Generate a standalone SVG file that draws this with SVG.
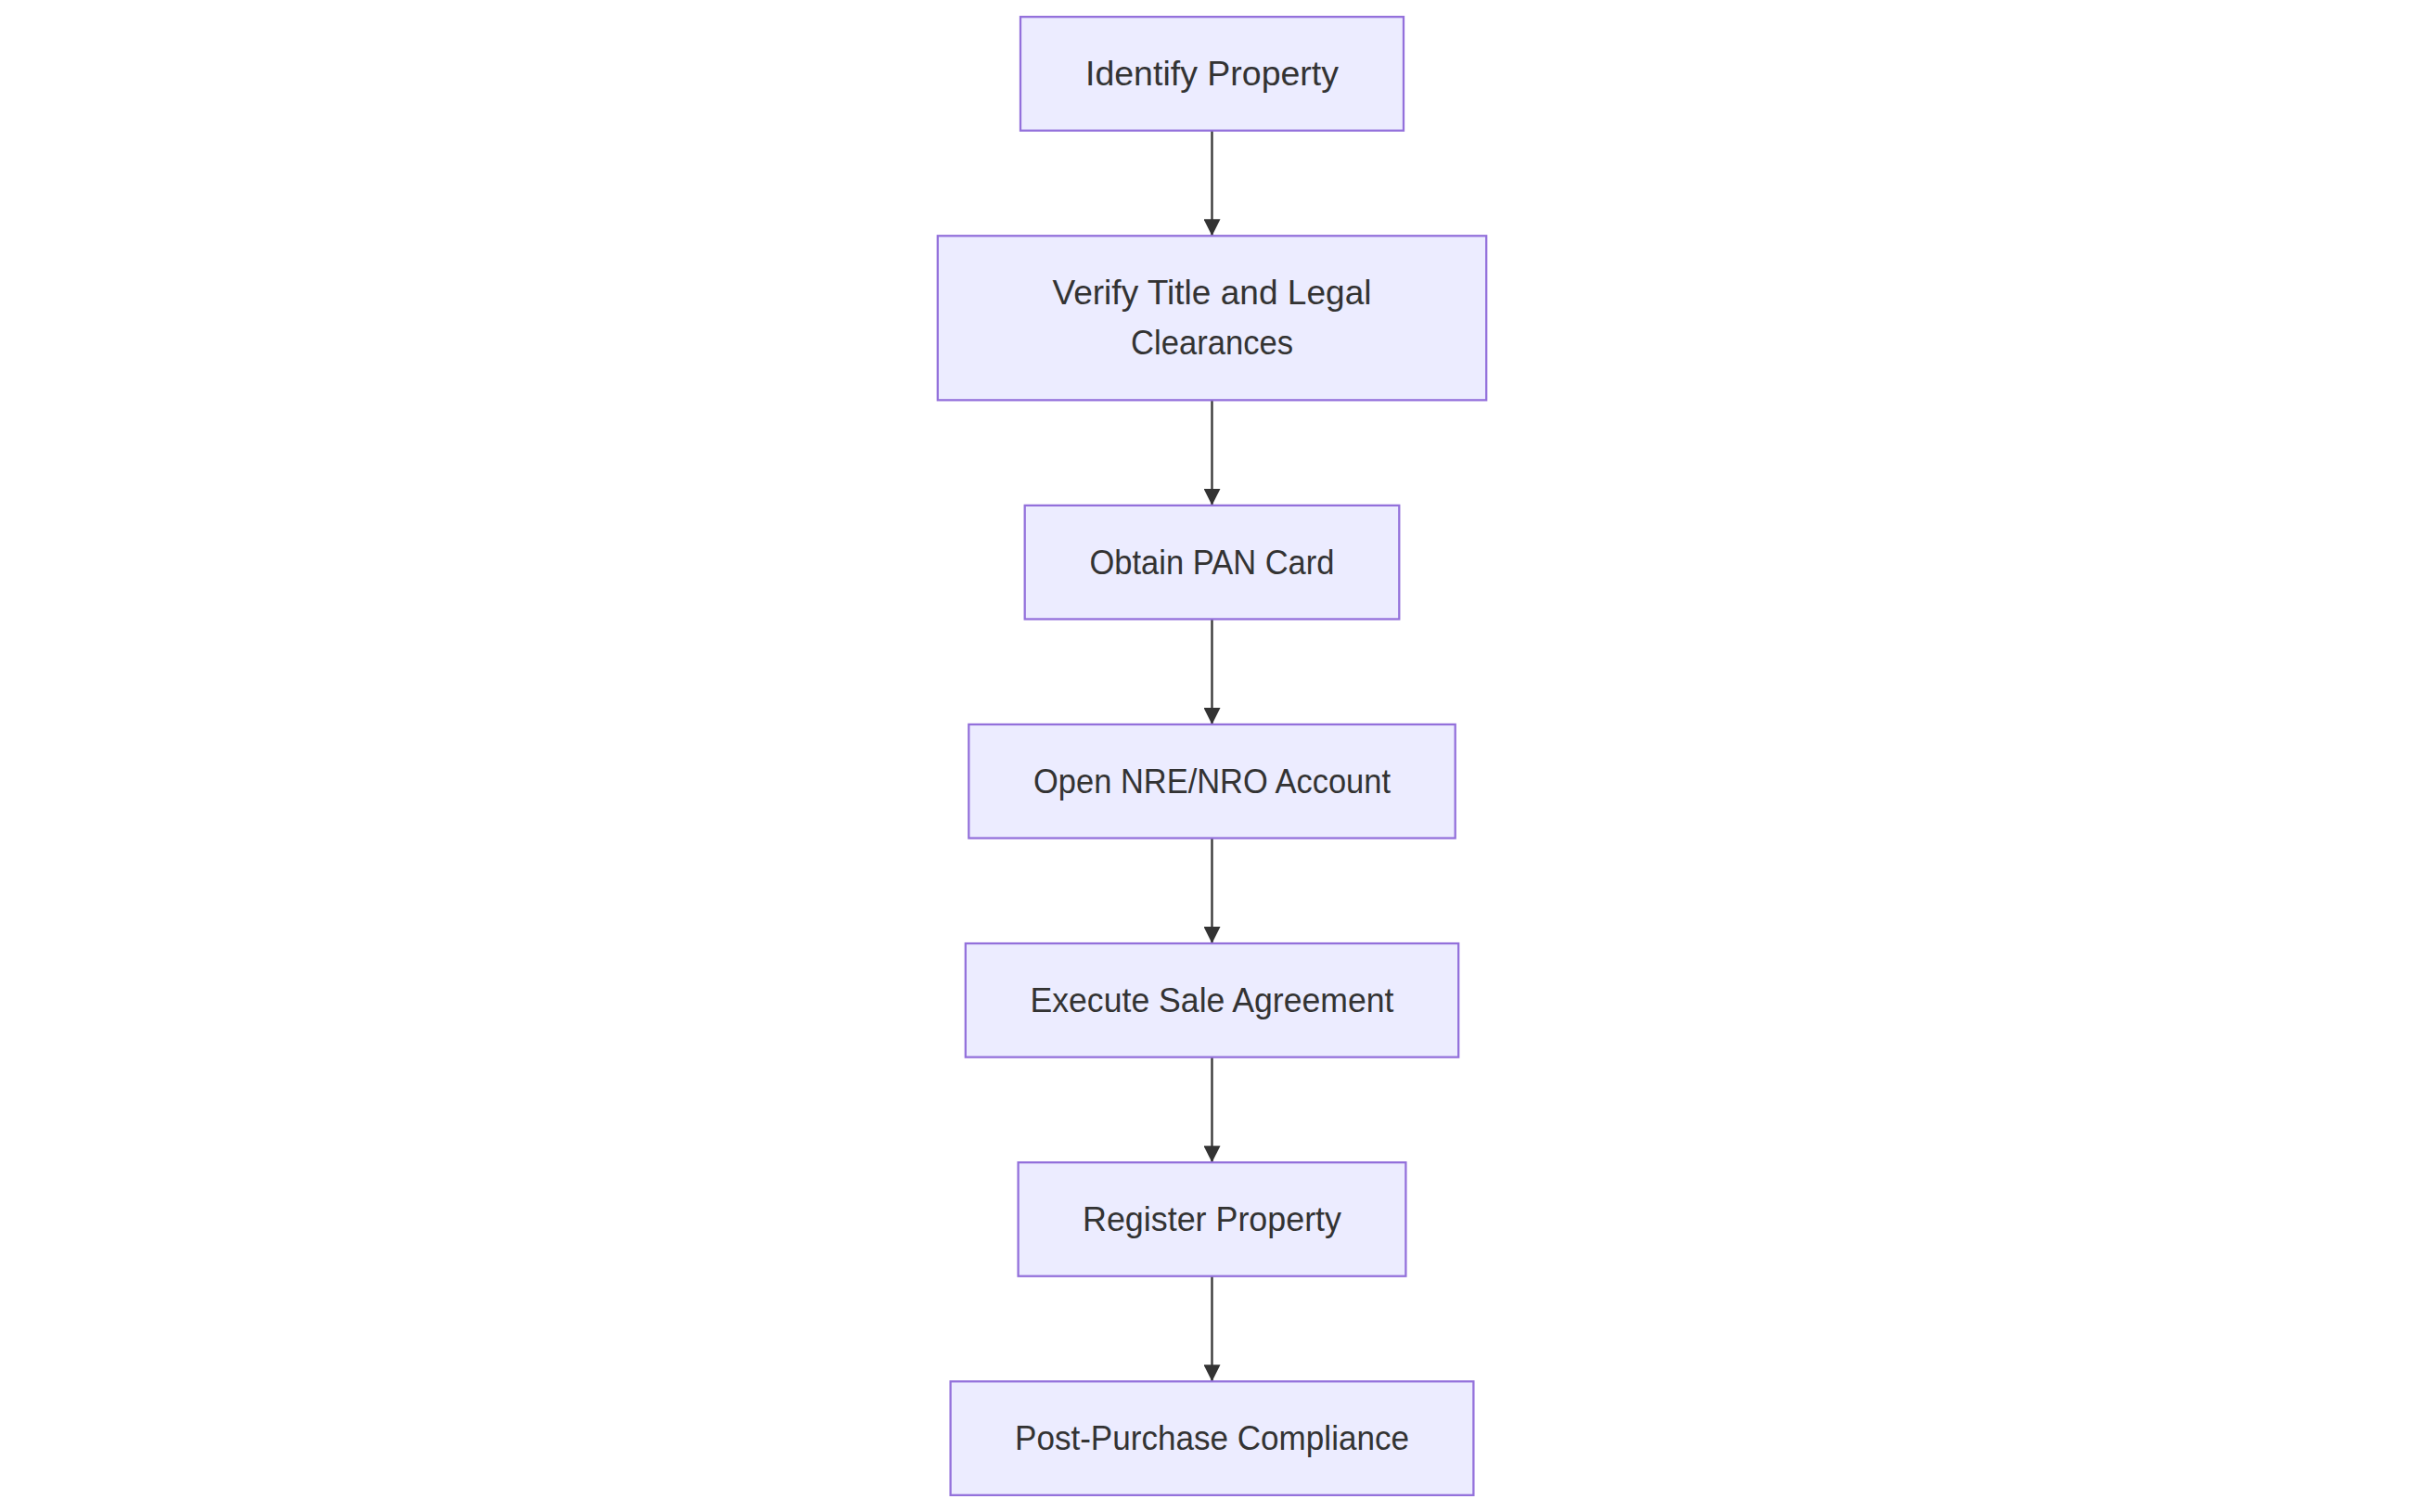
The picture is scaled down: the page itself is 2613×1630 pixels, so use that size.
<svg xmlns="http://www.w3.org/2000/svg" width="2613" height="1630" viewBox="0 0 2613 1630">
  <style>
    .node rect { fill: #ECECFF; stroke: #9370DB; stroke-width: 2.27; }
    .node text { fill: #333333; font-family: "Liberation Sans", Arial, sans-serif; font-size: 36.3px; text-anchor: middle; }
    .edge { stroke: #333333; stroke-width: 2.3; fill: none; }
  </style>
  <defs>
    <marker id="arrow" viewBox="0 0 18 18" refX="18" refY="9" markerUnits="userSpaceOnUse" markerWidth="18" markerHeight="18" orient="auto">
      <path d="M0,0 L18,9 L0,18 z" fill="#333333"/>
    </marker>
  </defs>
  <rect width="2613" height="1630" fill="#ffffff"/>
  <g id="connectors">
    <path class="edge" d="M1306.5,140.75 L1306.5,254.26" marker-end="url(#arrow)"/>
    <path class="edge" d="M1306.5,431.34 L1306.5,544.85" marker-end="url(#arrow)"/>
    <path class="edge" d="M1306.5,667.44 L1306.5,780.95" marker-end="url(#arrow)"/>
    <path class="edge" d="M1306.5,903.54 L1306.5,1017.05" marker-end="url(#arrow)"/>
    <path class="edge" d="M1306.5,1139.64 L1306.5,1253.15" marker-end="url(#arrow)"/>
    <path class="edge" d="M1306.5,1375.74 L1306.5,1489.25" marker-end="url(#arrow)"/>
  </g>
  <g id="node-identify" class="node">
    <rect x="1100" y="18.16" width="413" height="122.59"/>
    <text x="1306.5" y="92.2" textLength="273" lengthAdjust="spacingAndGlyphs">Identify Property</text>
  </g>
  <g id="node-verify" class="node">
    <rect x="1010.8" y="254.26" width="591.4" height="177.08"/>
    <text x="1306.5" y="327.5" textLength="344" lengthAdjust="spacingAndGlyphs">Verify Title and Legal</text>
    <text x="1306.5" y="381.5" textLength="175" lengthAdjust="spacingAndGlyphs">Clearances</text>
  </g>
  <g id="node-pan" class="node">
    <rect x="1104.7" y="544.85" width="403.6" height="122.59"/>
    <text x="1306.5" y="618.9" textLength="264" lengthAdjust="spacingAndGlyphs">Obtain PAN Card</text>
  </g>
  <g id="node-account" class="node">
    <rect x="1044.3" y="780.95" width="524.4" height="122.59"/>
    <text x="1306.5" y="855" textLength="385" lengthAdjust="spacingAndGlyphs">Open NRE/NRO Account</text>
  </g>
  <g id="node-agreement" class="node">
    <rect x="1040.8" y="1017.05" width="531.4" height="122.59"/>
    <text x="1306.5" y="1091" textLength="392" lengthAdjust="spacingAndGlyphs">Execute Sale Agreement</text>
  </g>
  <g id="node-register" class="node">
    <rect x="1097.6" y="1253.15" width="417.8" height="122.59"/>
    <text x="1306.5" y="1327.2" textLength="279" lengthAdjust="spacingAndGlyphs">Register Property</text>
  </g>
  <g id="node-compliance" class="node">
    <rect x="1024.6" y="1489.25" width="563.8" height="122.59"/>
    <text x="1306.5" y="1563.3" textLength="425" lengthAdjust="spacingAndGlyphs">Post-Purchase Compliance</text>
  </g>
</svg>
